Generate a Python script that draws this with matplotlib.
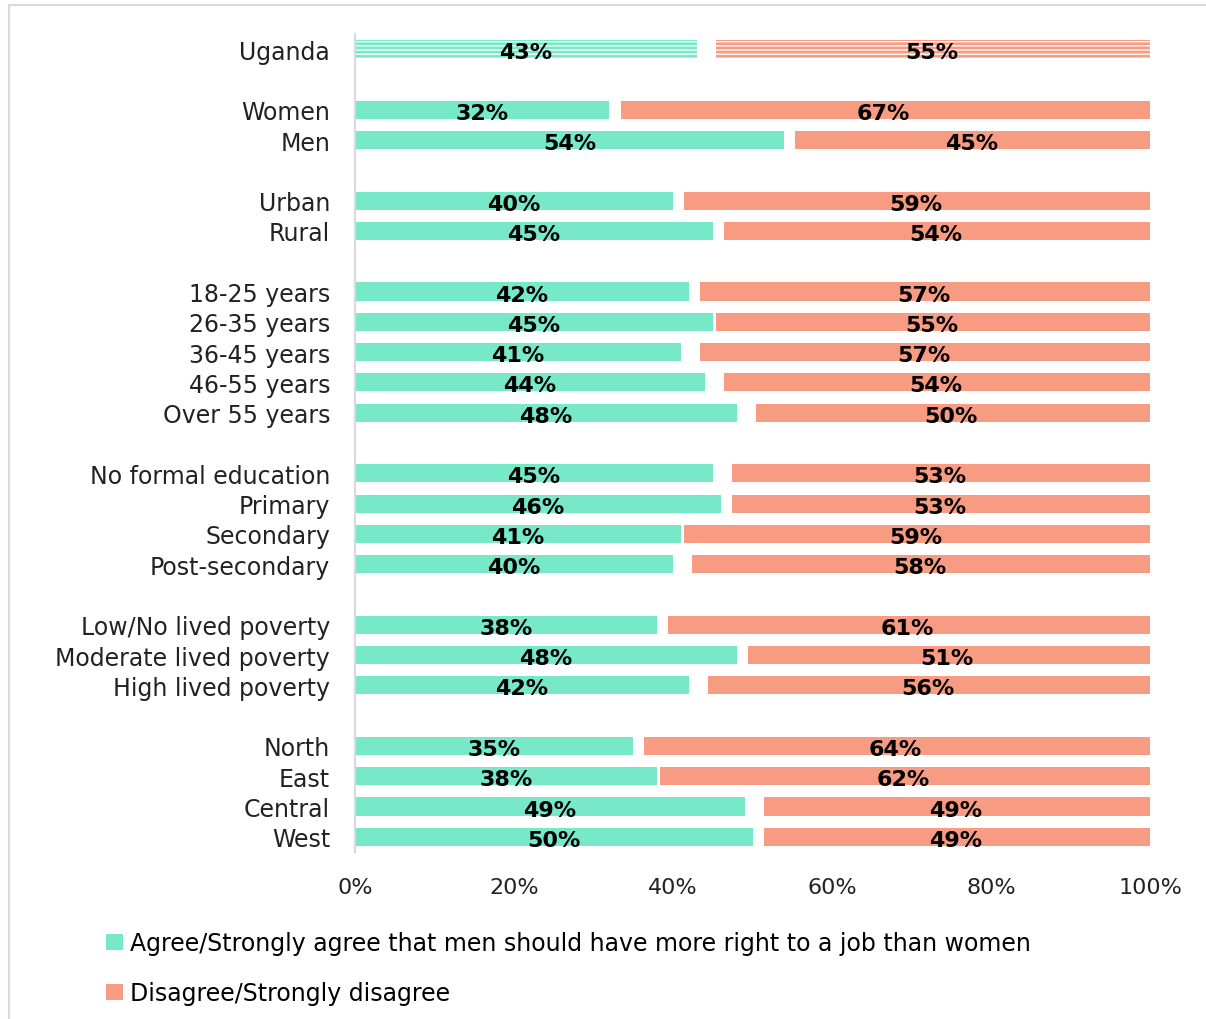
import matplotlib.pyplot as plt
from matplotlib.lines import Line2D
from matplotlib.patches import Patch
import numpy as np

plt.rcParams['font.family'] = ['DejaVu Sans']
plt.rcParams['hatch.linewidth'] = 2.0

# Data
groups = ['Uganda', None, 'Women', 'Men', None, 'Urban', 'Rural', None,
          '18-25 years', '26-35 years', '36-45 years', '46-55 years', 'Over 55 years', None,
          'No formal education', 'Primary', 'Secondary', 'Post-secondary', None,
          'Low/No lived poverty', 'Moderate lived poverty', 'High lived poverty', None,
          'North', 'East', 'Central', 'West']
agree = [43, None, 32, 54, None, 40, 45, None,
         42, 45, 41, 44, 48, None,
         45, 46, 41, 40, None,
         38, 48, 42, None,
         35, 38, 49, 50]
disagree = [55, None, 67, 45, None, 59, 54, None,
            57, 55, 57, 54, 50, None,
            53, 53, 59, 58, None,
            61, 51, 56, None,
            64, 62, 49, 49]
legend_labels = ['Agree/Strongly agree that men should have more right to a job than women',
                 'Disagree/Strongly disagree']

c_agree = '#77E8C8'
c_dis = '#F79B82'

fig = plt.figure(figsize=(12.06, 10.20), dpi=100)
ax = fig.add_axes([0.2944, 0.1637, 0.6592, 0.802])

bh = 0.6
gap = 0.4
for i, (g, a, d) in enumerate(zip(groups, agree, disagree)):
    if g is None:
        continue
    if i == 0:
        ax.barh(i, a, left=0, height=bh, color='white', edgecolor=c_agree,
                hatch='----', linewidth=0)
        ax.barh(i, d - gap, left=100 - d + gap, height=bh, color='white', edgecolor=c_dis,
                hatch='----', linewidth=0)
    else:
        ax.barh(i, a, left=0, height=bh, color=c_agree, linewidth=0)
        ax.barh(i, d - gap, left=100 - d + gap, height=bh, color=c_dis, linewidth=0)
    ax.text(a / 2, i + 0.1, f'{a}%', ha='center', va='center', fontsize=16,
            fontweight='bold', color='black')
    ax.text(100 - d / 2, i + 0.1, f'{d}%', ha='center', va='center', fontsize=16,
            fontweight='bold', color='black')

ax.set_xlim(0, 100)
ax.set_ylim(len(groups) - 0.5, -0.5)
ticks = [i for i, g in enumerate(groups) if g is not None]
ax.set_yticks(ticks)
ax.set_yticklabels([groups[i] for i in ticks], fontsize=17, color='#222222')
ax.set_xticks(np.arange(0, 101, 20))
ax.set_xticklabels([f'{v}%' for v in range(0, 101, 20)], fontsize=16, color='#222222')
ax.tick_params(axis='both', length=0)
ax.tick_params(axis='y', pad=18)
ax.tick_params(axis='x', pad=18)
for s in ['top', 'right', 'bottom']:
    ax.spines[s].set_visible(False)
ax.spines['left'].set_color('#d9d9d9')
ax.spines['left'].set_linewidth(1.5)

handles = [Patch(facecolor=c_agree), Patch(facecolor=c_dis)]
fig.legend(handles, legend_labels, loc='upper left', bbox_to_anchor=(0.088, 0.086),
           frameon=False, fontsize=17, handlelength=0.7, handleheight=0.7,
           handletextpad=0.3, labelspacing=1.1, borderaxespad=0, borderpad=0)

# light frame at top and left
fig.add_artist(Line2D([9 / 1206, 9 / 1206], [0, 1 - 6 / 1020], transform=fig.transFigure,
                      color='#d9d9d9', linewidth=1.5))
fig.add_artist(Line2D([9 / 1206, 1], [1 - 6 / 1020, 1 - 6 / 1020], transform=fig.transFigure,
                      color='#d9d9d9', linewidth=1.5))

fig.savefig('out.png', dpi=100, facecolor='white')
